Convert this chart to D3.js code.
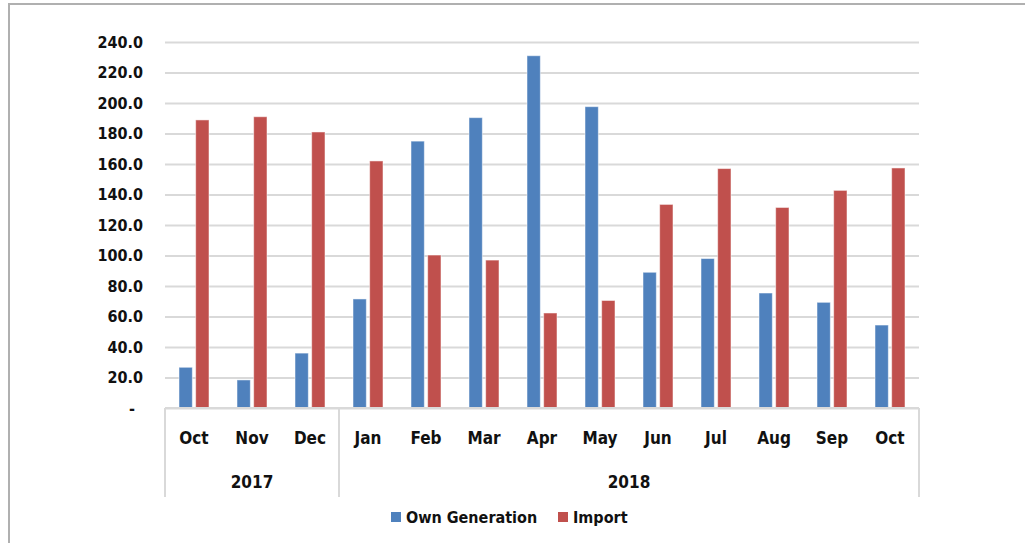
<!DOCTYPE html>
<html>
<head>
<meta charset="utf-8">
<script src="https://cdn.jsdelivr.net/npm/d3@7"></script>
<style>
  body { margin: 0; background: #fff; }
  svg text { font-family: "DejaVu Sans Condensed", "Liberation Sans Narrow", sans-serif; font-weight: bold; fill: #111; }
</style>
</head>
<body>
<div id="chart"></div>
<script>
// data
var months = ['Oct', 'Nov', 'Dec', 'Jan', 'Feb', 'Mar', 'Apr', 'May', 'Jun', 'Jul', 'Aug', 'Sep', 'Oct'];
var years = ['2017', '2017', '2017', '2018', '2018', '2018', '2018', '2018', '2018', '2018', '2018', '2018', '2018'];
var ownGeneration = [26.7, 18.4, 36.0, 71.5, 175.0, 190.4, 231.0, 197.6, 89.0, 98.0, 75.4, 69.3, 54.4];
var importValues = [188.9, 191.0, 181.0, 162.0, 100.3, 97.0, 62.3, 70.5, 133.5, 157.0, 131.5, 142.7, 157.4];
var seriesNames = ['Own Generation', 'Import'];
var yTicks = [0, 20, 40, 60, 80, 100, 120, 140, 160, 180, 200, 220, 240];

var width = 1025, height = 543;
var margin = { top: 42, right: 106, bottom: 135, left: 165 };
var colors = ['#4f81bd', '#c0504d'];

var svg = d3.select("#chart")
  .append("svg")
  .attr("width", width)
  .attr("height", height);

// outer frame
svg.append("path")
  .attr("d", `M9,${height} V4 H${width}`)
  .attr("fill", "none")
  .attr("stroke", "#b0b0b0")
  .attr("stroke-width", 2);

var cats = months.map((m, i) => i);

var xScale = d3.scaleBand()
  .domain(cats)
  .range([margin.left, width - margin.right])
  .padding(0);

var xInner = d3.scaleBand()
  .domain(seriesNames)
  .range([14, 44])
  .paddingInner(0.2);

var yScale = d3.scaleLinear()
  .domain([0, 240])
  .range([height - margin.bottom, margin.top]);

// grid
var yGrid = d3.axisLeft(yScale)
  .tickValues(yTicks)
  .tickSize(-(width - margin.left - margin.right))
  .tickFormat("");

svg.append("g")
  .attr("transform", `translate(${margin.left},0)`)
  .attr("class", "grid")
  .call(yGrid)
  .call(g => g.select(".domain").remove())
  .call(g => g.selectAll("line").attr("stroke", "#d9d9d9").attr("stroke-width", 2));

// y axis labels
var yAxis = d3.axisLeft(yScale)
  .tickValues(yTicks)
  .tickSize(0)
  .tickPadding(22)
  .tickFormat(d => d === 0 ? "-" : d.toFixed(1));

svg.append("g")
  .attr("transform", `translate(${margin.left},0)`)
  .attr("class", "y-axis")
  .call(yAxis)
  .call(g => g.select(".domain").remove())
  .selectAll("text")
  .attr("font-size", "16px")
  .attr("dx", d => d === 0 ? -8 : 0);

// bars
var rows = cats.map(i => ({ i: i, values: [ownGeneration[i], importValues[i]] }));

var groups = svg.selectAll(".cat")
  .data(rows)
  .enter()
  .append("g")
  .attr("class", "cat")
  .attr("transform", d => `translate(${xScale(d.i)},0)`);

groups.selectAll("rect")
  .data(d => d.values.map((v, k) => ({ key: seriesNames[k], value: v, k: k })))
  .enter()
  .append("rect")
  .attr("x", d => xInner(d.key))
  .attr("y", d => yScale(d.value))
  .attr("width", xInner.bandwidth())
  .attr("height", d => yScale(0) - yScale(d.value))
  .attr("fill", d => colors[d.k])
  .attr("stroke", "#ffffff")
  .attr("stroke-opacity", 0.5)
  .attr("stroke-width", 1);

// x axis
var baseY = yScale(0);
var sepBottom = 497;

svg.append("line")
  .attr("x1", margin.left).attr("x2", width - margin.right)
  .attr("y1", baseY).attr("y2", baseY)
  .attr("stroke", "#d9d9d9").attr("stroke-width", 2);

// separators between year groups
var yearGroups = [];
years.forEach((y, i) => {
  var last = yearGroups[yearGroups.length - 1];
  if (last && last.year === y) last.end = i;
  else yearGroups.push({ year: y, start: i, end: i });
});

var sepX = [xScale(0)].concat(yearGroups.map(g => xScale(g.end) + xScale.bandwidth()));
svg.selectAll(".sep")
  .data(sepX)
  .enter()
  .append("line")
  .attr("class", "sep")
  .attr("x1", d => d).attr("x2", d => d)
  .attr("y1", baseY).attr("y2", sepBottom)
  .attr("stroke", "#d9d9d9").attr("stroke-width", 2);

svg.selectAll(".month")
  .data(cats)
  .enter()
  .append("text")
  .attr("class", "month")
  .attr("x", d => xScale(d) + xScale.bandwidth() / 2)
  .attr("y", 444)
  .attr("text-anchor", "middle")
  .attr("font-size", "17px")
  .text(d => months[d]);

svg.selectAll(".year")
  .data(yearGroups)
  .enter()
  .append("text")
  .attr("class", "year")
  .attr("x", d => (xScale(d.start) + xScale(d.end) + xScale.bandwidth()) / 2)
  .attr("y", 488)
  .attr("text-anchor", "middle")
  .attr("font-size", "17px")
  .text(d => d.year);

// legend
var legend = svg.selectAll(".legend")
  .data(seriesNames)
  .enter()
  .append("g")
  .attr("class", "legend")
  .attr("transform", (d, k) => `translate(${k === 0 ? 391 : 558},512)`);

legend.append("rect")
  .attr("width", 10).attr("height", 10)
  .attr("fill", (d, k) => colors[k]);

legend.append("text")
  .attr("x", 15)
  .attr("y", 11)
  .attr("font-size", "16px")
  .text(d => d);
</script>
</body>
</html>
